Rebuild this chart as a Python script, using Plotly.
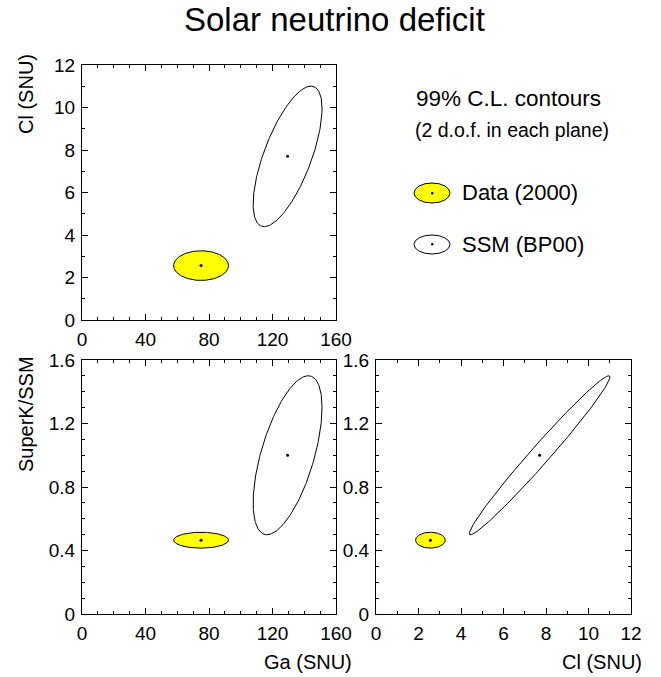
import numpy as np
import plotly.graph_objects as go

# ---- data ----
quantities = ["Ga", "Cl", "SK"]
data_center = {"Ga": 75.0, "Cl": 2.56, "SK": 0.465}
data_sigma = {"Ga": 5.7, "Cl": 0.23, "SK": 0.0165}
data_corr = {("Ga", "Cl"): 0.0, ("Ga", "SK"): 0.0, ("Cl", "SK"): 0.0}

ssm_center = {"Ga": 129.5, "Cl": 7.7, "SK": 1.0}
ssm_sigma = {"Ga": 7.15, "Cl": 1.09, "SK": 0.165}
ssm_corr = {("Ga", "Cl"): 0.68, ("Ga", "SK"): 0.60, ("Cl", "SK"): 0.984}

delta_chi2 = 9.21  # 99% C.L., 2 d.o.f.

x_ticks_ga = [0, 40, 80, 120, 160]
y_ticks_cl = [0, 2, 4, 6, 8, 10, 12]
y_ticks_sk = [0, 0.4, 0.8, 1.2, 1.6]
x_ticks_cl = [0, 2, 4, 6, 8, 10, 12]

W, H = 661, 677
FONT = "Liberation Sans, Arial, sans-serif"


def ellipse(center, sigma, corr, a, b, n=241):
    s1, s2, r = sigma[a], sigma[b], corr[(a, b)]
    cov = np.array([[s1 * s1, r * s1 * s2], [r * s1 * s2, s2 * s2]])
    L = np.linalg.cholesky(cov)
    t = np.linspace(0, 2 * np.pi, n)
    pts = L @ np.vstack([np.cos(t), np.sin(t)]) * np.sqrt(delta_chi2)
    return center[a] + pts[0], center[b] + pts[1]


fig = go.Figure()
planes = [("Ga", "Cl", "x", "y"), ("Ga", "SK", "x2", "y2"), ("Cl", "SK", "x3", "y3")]
for a, b, xa, ya in planes:
    ex, ey = ellipse(data_center, data_sigma, data_corr, a, b)
    fig.add_trace(go.Scatter(x=ex, y=ey, mode="lines", fill="toself", fillcolor="#ffff00",
                             line=dict(color="black", width=1), xaxis=xa, yaxis=ya,
                             showlegend=False, hoverinfo="skip"))
    sx, sy = ellipse(ssm_center, ssm_sigma, ssm_corr, a, b)
    fig.add_trace(go.Scatter(x=sx, y=sy, mode="lines",
                             line=dict(color="black", width=1), xaxis=xa, yaxis=ya,
                             showlegend=False, hoverinfo="skip"))
    fig.add_trace(go.Scatter(x=[data_center[a], ssm_center[a]], y=[data_center[b], ssm_center[b]],
                             mode="markers", marker=dict(color="black", size=3),
                             xaxis=xa, yaxis=ya, showlegend=False, hoverinfo="skip"))


def px(x):
    return x / W


def py(y):
    return 1 - y / H


tickfont = dict(family=FONT, size=19, color="black")


def axis_common(rng, vals, minor_dtick, domain, anchor):
    return dict(range=rng, tickvals=vals, ticktext=[("%g" % v) for v in vals],
                domain=domain, anchor=anchor, showgrid=False, zeroline=False,
                showline=True, linecolor="black", linewidth=1, mirror="ticks",
                ticks="inside", ticklen=6, tickwidth=1, tickcolor="black",
                minor=dict(dtick=minor_dtick, ticks="inside", ticklen=3, tickwidth=1,
                           tickcolor="black", showgrid=False),
                tickfont=tickfont, fixedrange=True, automargin=False)


xd_left = [px(82), px(336)]
xd_right = [px(376), px(631)]
yd_top = [py(320), py(65)]
yd_bot = [py(614), py(360)]

fig.update_layout(
    width=W, height=H,
    margin=dict(l=0, r=0, t=0, b=0, pad=0, autoexpand=False),
    paper_bgcolor="white", plot_bgcolor="white",
    xaxis=axis_common([0, 160], x_ticks_ga, 10, xd_left, "y"),
    yaxis=axis_common([0, 12], y_ticks_cl, 1, yd_top, "x"),
    xaxis2=axis_common([0, 160], x_ticks_ga, 10, xd_left, "y2"),
    yaxis2=axis_common([0, 1.6], y_ticks_sk, 0.1, yd_bot, "x2"),
    xaxis3=axis_common([0, 12], x_ticks_cl, 1, xd_right, "y3"),
    yaxis3=axis_common([0, 1.6], y_ticks_sk, 0.1, yd_bot, "x3"),
)
fig.update_yaxes(ticklabelstandoff=2)
fig.update_xaxes(ticklabelstandoff=2)

ann = []


def text(s, x, y, size, xanchor="center", angle=0):
    ann.append(dict(text=s, x=px(x), y=py(y), xref="paper", yref="paper",
                    xanchor=xanchor, yanchor="middle", showarrow=False, textangle=angle,
                    font=dict(family=FONT, size=size, color="black")))


text("Solar neutrino deficit", 335, 20, 33)
text("Cl (SNU)", 26, 94, 20, angle=-90)
text("SuperK/SSM", 26, 414, 20, angle=-90)
text("Ga (SNU)", 308, 662, 20)
text("Cl (SNU)", 602, 662, 20)
text("99% C.L. contours", 414, 98, 22.5, xanchor="left")
text("(2 d.o.f. in each plane)", 413, 130, 19.5, xanchor="left")
text("Data (2000)", 460, 193, 22, xanchor="left")
text("SSM (BP00)", 460, 244, 22, xanchor="left")
fig.update_layout(annotations=ann)

shapes = [
    dict(type="circle", xref="paper", yref="paper", x0=px(414), x1=px(450), y0=py(203), y1=py(183),
         fillcolor="#ffff00", line=dict(color="black", width=1)),
    dict(type="circle", xref="paper", yref="paper", x0=px(414), x1=px(450), y0=py(254), y1=py(235),
         fillcolor="rgba(0,0,0,0)", line=dict(color="black", width=1)),
    dict(type="circle", xref="paper", yref="paper", x0=px(431), x1=px(433.5), y0=py(194.5), y1=py(192),
         fillcolor="black", line=dict(color="black", width=0)),
    dict(type="circle", xref="paper", yref="paper", x0=px(431), x1=px(433.5), y0=py(245.5), y1=py(243),
         fillcolor="black", line=dict(color="black", width=0)),
]
fig.update_layout(shapes=shapes)

fig.write_html("out.html", config={"displayModeBar": False},
               post_script="document.body.style.margin='0';document.body.style.overflow='hidden';")
